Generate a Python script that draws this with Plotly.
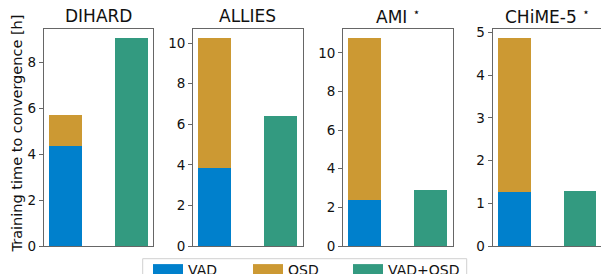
import plotly.graph_objects as go

datasets = ["DIHARD", "ALLIES", "AMI <sup>⋆</sup>", "CHiME-5 <sup>⋆</sup>"]
series = ["VAD", "OSD", "VAD+OSD"]
vad = [4.36, 3.85, 2.38, 1.26]
osd = [1.34, 6.40, 8.36, 3.60]
vad_osd = [9.05, 6.41, 2.90, 1.29]
y_max = [9.45, 10.7, 11.23, 5.08]
y_dtick = [2, 2, 2, 1]

COLORS = {"VAD": "#0080CC", "OSD": "#CC9933", "VAD+OSD": "#339A80"}
FONT = "DejaVu Sans"

W, H = 601, 274
left_px = [44, 193.3, 343.3, 492.7]
panel_w = 109.3
top_px, bot_px = 29, 246

fig = go.Figure()
for i in range(4):
    xa = "x" if i == 0 else f"x{i+1}"
    ya = "y" if i == 0 else f"y{i+1}"
    fig.add_trace(go.Bar(x=[0], y=[vad[i]], name="VAD", marker_color=COLORS["VAD"],
                         marker_line_width=0, width=0.5, xaxis=xa, yaxis=ya,
                         showlegend=False, legendgroup="VAD"))
    fig.add_trace(go.Bar(x=[0], y=[osd[i]], name="OSD", marker_color=COLORS["OSD"],
                         marker_line_width=0, width=0.5, xaxis=xa, yaxis=ya,
                         showlegend=False, legendgroup="OSD"))
    fig.add_trace(go.Bar(x=[1], y=[vad_osd[i]], name="VAD+OSD", marker_color=COLORS["VAD+OSD"],
                         marker_line_width=0, width=0.5, xaxis=xa, yaxis=ya,
                         showlegend=False, legendgroup="VAD+OSD"))

# legend entries drawn as wide patches (matplotlib-style)
for s in series:
    fig.add_trace(go.Scatter(x=[None], y=[None], mode="lines", name=s,
                             line=dict(color=COLORS[s], width=10),
                             legendgroup=s, showlegend=True, hoverinfo="skip"))
# blank spacer entry so the last label is not clipped by the legend box
fig.add_trace(go.Scatter(x=[None], y=[None], mode="lines", name="\u00a0",
                         line=dict(color="rgba(0,0,0,0)", width=0),
                         showlegend=True, hoverinfo="skip"))

layout = dict(
    width=W, height=H, margin=dict(l=0, r=0, t=0, b=0, autoexpand=False),
    paper_bgcolor="white", plot_bgcolor="white",
    barmode="stack", bargap=0,
    font=dict(family=FONT, size=13, color="#111"),
    showlegend=True,
    legend=dict(orientation="h", x=148.0 / W, xanchor="left",
                y=1 - 253.5 / H, yanchor="top",
                borderwidth=0, bgcolor="rgba(0,0,0,0)",
                font=dict(family=FONT, size=14, color="#111"),
                entrywidth=55, entrywidthmode="pixels",
                tracegroupgap=0),
    shapes=[dict(type="rect", xref="paper", yref="paper",
                 x0=142.7 / W, x1=466.7 / W, y0=1 - 258.7 / H, y1=-0.2,
                 line=dict(color="#d0d0d0", width=1), fillcolor="rgba(0,0,0,0)",
                 layer="below")],
)
axis_line = "rgba(0,0,0,0.6)"
for i in range(4):
    xk = "xaxis" if i == 0 else f"xaxis{i+1}"
    yk = "yaxis" if i == 0 else f"yaxis{i+1}"
    x0 = left_px[i] / W
    x1 = (left_px[i] + panel_w) / W
    layout[xk] = dict(domain=[x0, min(x1, 1.0)], range=[-0.325, 1.325],
                      showticklabels=False, ticks="", showgrid=False, zeroline=False,
                      showline=True, mirror=True, linecolor=axis_line, linewidth=1.3,
                      anchor="y" if i == 0 else f"y{i+1}", fixedrange=True)
    layout[yk] = dict(domain=[1 - bot_px / H, 1 - top_px / H], range=[0, y_max[i]],
                      dtick=y_dtick[i], tick0=0, ticks="outside", ticklen=4,
                      tickcolor=axis_line, tickwidth=1.2, showgrid=False, zeroline=False,
                      showline=True, mirror=True, linecolor=axis_line, linewidth=1.3,
                      tickfont=dict(family=FONT, size=13.5, color="#111"),
                      anchor="x" if i == 0 else f"x{i+1}", fixedrange=True)
fig.update_layout(**layout)

annotations = []
for i, name in enumerate(datasets):
    cx = (left_px[i] + panel_w / 2) / W
    annotations.append(dict(text=name, x=cx, y=1 - 16 / H, xref="paper", yref="paper",
                            xanchor="center", yanchor="middle", showarrow=False,
                            font=dict(family=FONT, size=17, color="#111")))
annotations.append(dict(text="Training time to convergence [h]", x=16.5 / W, y=1 - 134 / H,
                        xref="paper", yref="paper", xanchor="center", yanchor="middle",
                        textangle=-90, showarrow=False,
                        font=dict(family=FONT, size=14.5, color="#111")))
fig.update_layout(annotations=annotations)

fig.write_html("out.html", config={"displayModeBar": False},
               post_script="document.body.style.margin='0px';"
                           "document.body.style.overflow='hidden';")
